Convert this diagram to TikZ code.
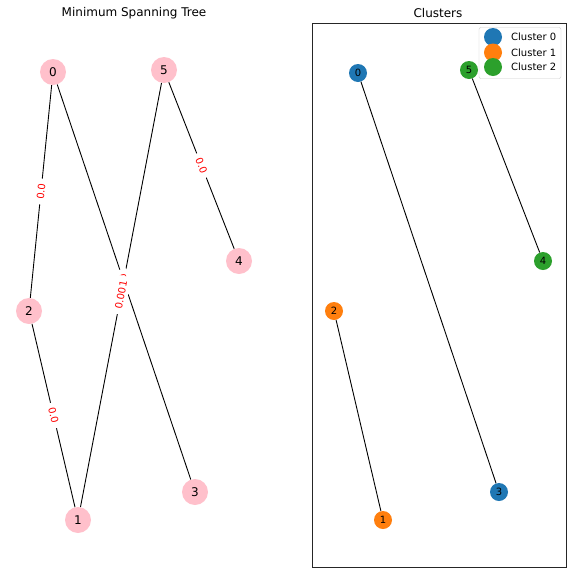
\documentclass[tikz,border=0pt]{standalone}
\usepackage{fontspec}
\setmainfont{DejaVu Sans}
\definecolor{tabblue}{HTML}{1F77B4}
\definecolor{taborange}{HTML}{FF7F0E}
\definecolor{tabgreen}{HTML}{2CA02C}
\definecolor{mstpink}{HTML}{FFC0CB}
\definecolor{legframe}{HTML}{CCCCCC}
\begin{document}
\begin{tikzpicture}[x=1pt,y=-1pt,
  mstnode/.style={circle,fill=mstpink,minimum size=26pt,inner sep=0pt,font=\fontsize{12}{14}\selectfont},
  clnode/.style={circle,minimum size=18pt,inner sep=0pt,font=\fontsize{10}{12}\selectfont},
  edge/.style={black,line width=0.9pt},
  elabel/.style={midway,sloped,fill=white,inner xsep=5pt,inner ysep=3pt,rounded corners=2pt,text=red,font=\fontsize{10}{12}\selectfont},
  ttl/.style={font=\fontsize{12}{14}\selectfont},
  legmark/.style={circle,minimum size=18pt,inner sep=0pt},
  legtext/.style={anchor=west,inner sep=0pt,font=\fontsize{10}{12}\selectfont}]
\useasboundingbox[fill=white] (0,0) rectangle (572,574);
% titles
\node[ttl] (t1) at (134,13) {Minimum Spanning Tree};
\node[ttl] (t2) at (438,13) {Clusters};
% left panel nodes
\node[mstnode] (a0) at (53,72) {0};
\node[mstnode] (a5) at (164,70) {5};
\node[mstnode] (a4) at (239,261) {4};
\node[mstnode] (a2) at (29,311) {2};
\node[mstnode] (a3) at (195,492) {3};
\node[mstnode] (a1) at (78,520) {1};
% left edges
\draw[edge] (a0) -- (a2);
\draw[edge] (a2) -- (a1);
\draw[edge] (a5) -- (a4);
\draw[edge] (a0) -- (a3);
\draw[edge] (a1) -- (a5);
\path (a2) -- (a0) node[elabel] {0.0};
\path (a2) -- (a1) node[elabel] {0.0};
\path (a5) -- (a4) node[elabel] {0.0};
\path (a0) -- (a3) node[elabel] {0.0};
\path (a1) -- (a5) node[elabel] {0.001};
% right panel
\node[draw=black!85,line width=0.8pt,minimum width=254pt,minimum height=544pt,inner sep=0pt] (frame) at (439,295) {};
\node[clnode,fill=tabblue] (b0) at (358,73) {0};
\node[clnode,fill=tabgreen] (b5) at (469,70) {5};
\node[clnode,fill=tabgreen] (b4) at (543,261) {4};
\node[clnode,fill=taborange] (b2) at (334,311) {2};
\node[clnode,fill=tabblue] (b3) at (499,492) {3};
\node[clnode,fill=taborange] (b1) at (383,520) {1};
\draw[edge] (b0) -- (b3);
\draw[edge] (b5) -- (b4);
\draw[edge] (b2) -- (b1);
% legend
\node[draw=legframe,fill=white,fill opacity=0.8,rounded corners=2pt,minimum width=82pt,minimum height=51pt,inner sep=0pt] (leg) at (520,53) {};
\node[legmark,fill=tabblue] (m0) at (493,37) {};
\node[legmark,fill=taborange] (m1) at (493,52.5) {};
\node[legmark,fill=tabgreen] (m2) at (493,67) {};
\node[legtext] (l0) at (511,37) {Cluster 0};
\node[legtext] (l1) at (511,52.5) {Cluster 1};
\node[legtext] (l2) at (511,67) {Cluster 2};
\end{tikzpicture}
\end{document}
